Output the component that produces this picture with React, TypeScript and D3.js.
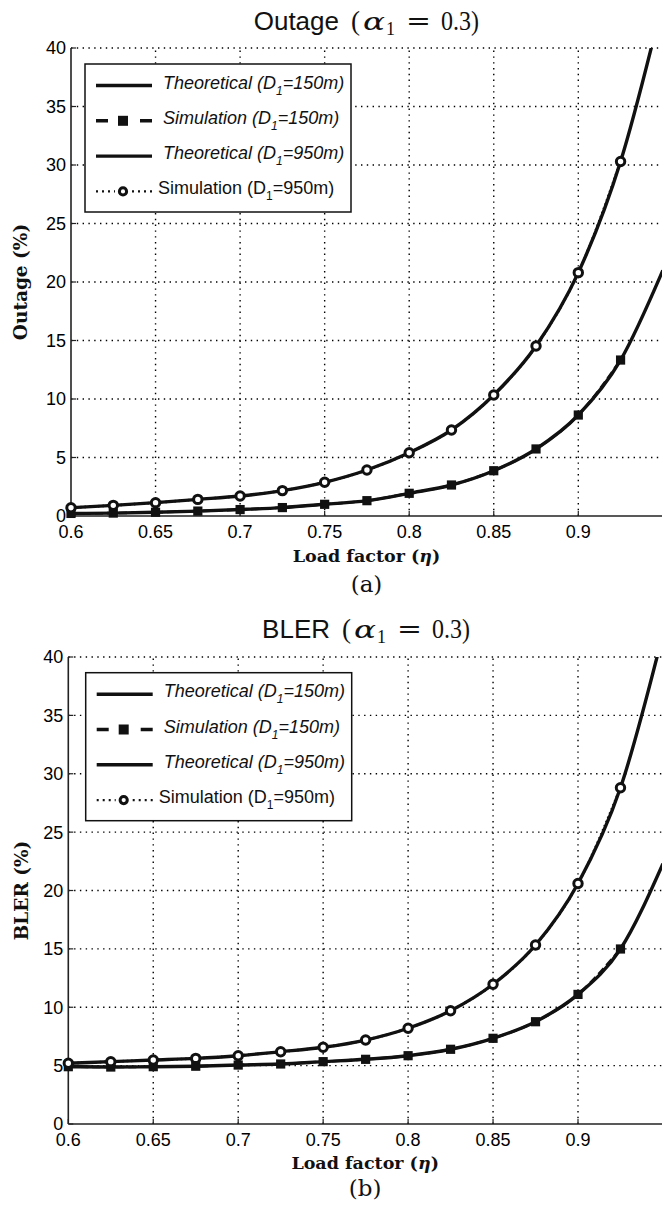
import React from "react";
import * as d3 from "d3";

// ---------- data ----------
const etaTicks = [0.6, 0.65, 0.7, 0.75, 0.8, 0.85, 0.9];
const etaTickLabels = ["0.6", "0.65", "0.7", "0.75", "0.8", "0.85", "0.9"];
const yTicks = [0, 5, 10, 15, 20, 25, 30, 35, 40];
const simEta = [0.6, 0.625, 0.65, 0.675, 0.7, 0.725, 0.75, 0.775, 0.8, 0.825, 0.85, 0.875, 0.9, 0.925];
const theoEta = [0.6, 0.625, 0.65, 0.675, 0.7, 0.725, 0.75, 0.775, 0.8, 0.825, 0.85, 0.875, 0.9, 0.925, 0.95];

// Outage (%)
const outageTheo150 = [0.22, 0.25, 0.32, 0.42, 0.55, 0.72, 1.0, 1.31, 1.94, 2.65, 3.87, 5.73, 8.63, 13.33, 21.0];
const outageSim150 = [0.22, 0.25, 0.32, 0.42, 0.55, 0.72, 1.0, 1.31, 1.94, 2.65, 3.87, 5.73, 8.63, 13.33];
const outageTheo950 = [0.71, 0.91, 1.14, 1.42, 1.71, 2.17, 2.88, 3.93, 5.41, 7.35, 10.34, 14.53, 20.8, 30.3, 44.0];
const outageSim950 = [0.71, 0.91, 1.14, 1.42, 1.71, 2.17, 2.88, 3.93, 5.41, 7.35, 10.34, 14.53, 20.8, 30.3];

// BLER (%)
const blerTheo150 = [4.91, 4.88, 4.91, 4.95, 5.05, 5.14, 5.34, 5.54, 5.85, 6.4, 7.34, 8.76, 11.1, 14.99, 22.3];
const blerSim150 = [4.91, 4.88, 4.91, 4.95, 5.05, 5.14, 5.34, 5.54, 5.85, 6.4, 7.34, 8.76, 11.1, 14.99];
const blerTheo950 = [5.2, 5.34, 5.48, 5.62, 5.85, 6.19, 6.57, 7.19, 8.2, 9.7, 11.97, 15.33, 20.6, 28.8, 42.0];
const blerSim950 = [5.2, 5.34, 5.48, 5.62, 5.85, 6.19, 6.57, 7.19, 8.2, 9.7, 11.97, 15.33, 20.6, 28.8];

const legendLabels = ["Theoretical", "Simulation", "Theoretical", "Simulation"];
const legendDist = ["150m", "150m", "950m", "950m"];

const W = 662;
const H = 1206;
const SANS = "'Liberation Sans', Arial, Helvetica, sans-serif";
const SERIF = "'Liberation Serif', 'Times New Roman', serif";
const DSERIF = "'DejaVu Serif', serif";

type PanelProps = {
  id: string;
  x0: number;
  xStep: number;
  yTop: number;
  yBottom: number;
  word: string;
  wordEnd: number;
  titleY: number;
  yLabel: string;
  yLabelX: number;
  xLabelY: number;
  sub: string;
  subY: number;
  legendTop: number;
  legendLeft: number;
  theo150: number[];
  sim150: number[];
  theo950: number[];
  sim950: number[];
};

function Panel(p: PanelProps) {
  const x = d3.scaleLinear().domain([0.6, 0.95]).range([p.x0, p.x0 + p.xStep * 7]);
  const y = d3.scaleLinear().domain([0, 40]).range([p.yBottom, p.yTop]);
  const line = d3
    .line<[number, number]>()
    .x((d) => x(d[0]))
    .y((d) => y(d[1]))
    .curve(d3.curveMonotoneX);
  const t150 = d3.zip(theoEta, p.theo150) as [number, number][];
  const s150 = d3.zip(simEta, p.sim150) as [number, number][];
  const t950 = d3.zip(theoEta, p.theo950) as [number, number][];
  const s950 = d3.zip(simEta, p.sim950) as [number, number][];
  const cx = (x(0.6) + W) / 2;
  const cy = (p.yTop + p.yBottom) / 2;
  const pp = p.wordEnd + 12;

  const lgW = 266;
  const lgH = 148;
  const lx = p.legendLeft;
  const rowY = (i: number) => p.legendTop + 24.5 + 35.3 * i;

  return (
    <g>
      <defs>
        <clipPath id={`clip-${p.id}`}>
          <rect x={x(0.6)} y={p.yTop} width={W - x(0.6)} height={p.yBottom - p.yTop} />
        </clipPath>
      </defs>
      {/* title */}
      <text x={p.wordEnd} y={p.titleY} textAnchor="end" fontFamily={SANS} fontSize={26} fill="#111">
        {p.word}
      </text>
      <text x={pp} y={p.titleY} fontFamily={SERIF} fontSize={27} fill="#111">(</text>
      <text x={pp + 12} y={p.titleY} fontFamily={DSERIF} fontStyle="italic" fontSize={24} textLength={22} lengthAdjust="spacingAndGlyphs" fill="#111">α</text>
      <text x={pp + 35} y={p.titleY + 5} fontFamily={SERIF} fontSize={18} fill="#111">1</text>
      <text x={pp + 55} y={p.titleY} fontFamily={DSERIF} fontSize={26} textLength={25} lengthAdjust="spacingAndGlyphs" fill="#111">=</text>
      <text x={pp + 90} y={p.titleY} fontFamily={SERIF} fontSize={27} textLength={38} lengthAdjust="spacingAndGlyphs" fill="#111">0.3)</text>

      {/* grid */}
      {yTicks
        .filter((t) => t > 0)
        .map((t) => (
          <line key={"gy" + t} x1={x(0.6)} x2={W} y1={y(t)} y2={y(t)} stroke="#000" strokeWidth={1.4} strokeDasharray="1.4 4.4" />
        ))}
      {etaTicks
        .filter((t) => t > 0.6)
        .map((t) => (
          <line key={"gx" + t} x1={x(t)} x2={x(t)} y1={p.yBottom} y2={p.yTop} stroke="#000" strokeWidth={1.4} strokeDasharray="1.4 4.4" />
        ))}

      {/* axes */}
      <line x1={x(0.6)} x2={x(0.6)} y1={p.yTop} y2={p.yBottom} stroke="#222" strokeWidth={1.6} />
      <line x1={x(0.6)} x2={W} y1={p.yBottom} y2={p.yBottom} stroke="#222" strokeWidth={1.6} />
      {yTicks.map((t) => (
        <g key={"ty" + t}>
          <line x1={x(0.6)} x2={x(0.6) + 5} y1={y(t)} y2={y(t)} stroke="#222" strokeWidth={1.2} />
          <text x={x(0.6) - 5} y={y(t)} dy="0.36em" textAnchor="end" fontFamily={SANS} fontSize={18} fill="#000">
            {t}
          </text>
        </g>
      ))}
      {etaTicks.map((t, i) => (
        <g key={"tx" + t}>
          <line x1={x(t)} x2={x(t)} y1={p.yBottom} y2={p.yBottom - 5} stroke="#222" strokeWidth={1.2} />
          <text x={x(t)} y={p.yBottom + 22} textAnchor="middle" fontFamily={SANS} fontSize={18} fill="#000">
            {etaTickLabels[i]}
          </text>
        </g>
      ))}

      {/* axis labels */}
      <text x={cx} y={p.xLabelY} textAnchor="middle" fontFamily={DSERIF} fontWeight="bold" fontSize={17.5} fill="#111">
        Load factor (<tspan fontStyle="italic">η</tspan>)
      </text>
      <text x={cx} y={p.subY} textAnchor="middle" fontFamily={DSERIF} fontSize={23} fill="#111">
        {p.sub}
      </text>
      <text
        transform={`translate(${p.yLabelX},${cy}) rotate(-90)`}
        textAnchor="middle"
        fontFamily={DSERIF}
        fontWeight="bold"
        fontSize={18.5}
        fill="#111"
      >
        {p.yLabel}
      </text>

      {/* curves */}
      <g clipPath={`url(#clip-${p.id})`}>
        <path d={line(t150) || ""} fill="none" stroke="#111" strokeWidth={3.4} />
        <path d={line(s150) || ""} fill="none" stroke="#111" strokeWidth={2.6} strokeDasharray="8 4" />
        <path d={line(t950) || ""} fill="none" stroke="#111" strokeWidth={3.4} />
        <path d={line(s950) || ""} fill="none" stroke="#111" strokeWidth={2.6} strokeDasharray="1.5 3" />
      </g>
      {s150.map((d, i) => (
        <rect key={"sq" + i} x={x(d[0]) - 4.6} y={y(d[1]) - 4.6} width={9.2} height={9.2} fill="#111" />
      ))}
      {s950.map((d, i) => (
        <circle key={"ci" + i} cx={x(d[0])} cy={y(d[1])} r={4.2} fill="#fff" stroke="#111" strokeWidth={3} />
      ))}

      {/* legend */}
      <rect x={lx} y={p.legendTop} width={lgW} height={lgH} fill="#fff" stroke="#111" strokeWidth={1.5} />
      {legendLabels.map((lab, i) => {
        const by = rowY(i);
        const ly = by - 3;
        const italic = i < 3;
        const tx = italic ? lx + 78 : lx + 73;
        return (
          <g key={"lg" + i}>
            {i === 0 || i === 2 ? (
              <line x1={lx + 11} x2={lx + 67} y1={ly} y2={ly} stroke="#111" strokeWidth={3.4} />
            ) : null}
            {i === 1 ? (
              <g>
                <line x1={lx + 11} x2={lx + 67} y1={ly} y2={ly} stroke="#111" strokeWidth={3.4} strokeDasharray="12 32" />
                <rect x={lx + 38 - 5} y={ly - 5} width={10} height={10} fill="#111" />
              </g>
            ) : null}
            {i === 3 ? (
              <g>
                <line x1={lx + 11} x2={lx + 67} y1={ly} y2={ly} stroke="#111" strokeWidth={2.2} strokeDasharray="2 4" />
                <rect x={lx + 30} y={ly - 6} width={16} height={12} fill="#fff" />
                <circle cx={lx + 38} cy={ly} r={3.6} fill="#fff" stroke="#111" strokeWidth={3} />
              </g>
            ) : null}
            <text x={tx} y={by} fontFamily={SANS} fontStyle={italic ? "italic" : "normal"} fontSize={18} fill="#111">
              {lab} (D<tspan fontSize={12} dy={6}>1</tspan>
              <tspan dy={-6}>={legendDist[i]})</tspan>
            </text>
          </g>
        );
      })}
    </g>
  );
}

export default function App() {
  return (
    <svg
      width={W}
      height={H}
      viewBox={`0 0 ${W} ${H}`}
      style={{ position: "absolute", left: 0, top: 0, background: "#fff" }}
    >
      <rect x={0} y={0} width={W} height={H} fill="#fff" />
      <Panel
        id="a"
        x0={71}
        xStep={84.55}
        yTop={48}
        yBottom={516}
        word="Outage"
        wordEnd={339}
        titleY={30}
        yLabel="Outage (%)"
        yLabelX={27}
        xLabelY={562}
        sub="(a)"
        subY={592}
        legendTop={64}
        legendLeft={85}
        theo150={outageTheo150}
        sim150={outageSim150}
        theo950={outageTheo950}
        sim950={outageSim950}
      />
      <Panel
        id="b"
        x0={68.3}
        xStep={84.95}
        yTop={657}
        yBottom={1124}
        word="BLER"
        wordEnd={330}
        titleY={638}
        yLabel="BLER (%)"
        yLabelX={28}
        xLabelY={1169}
        sub="(b)"
        subY={1196}
        legendTop={672.7}
        legendLeft={85.7}
        theo150={blerTheo150}
        sim150={blerSim150}
        theo950={blerTheo950}
        sim950={blerSim950}
      />
    </svg>
  );
}
